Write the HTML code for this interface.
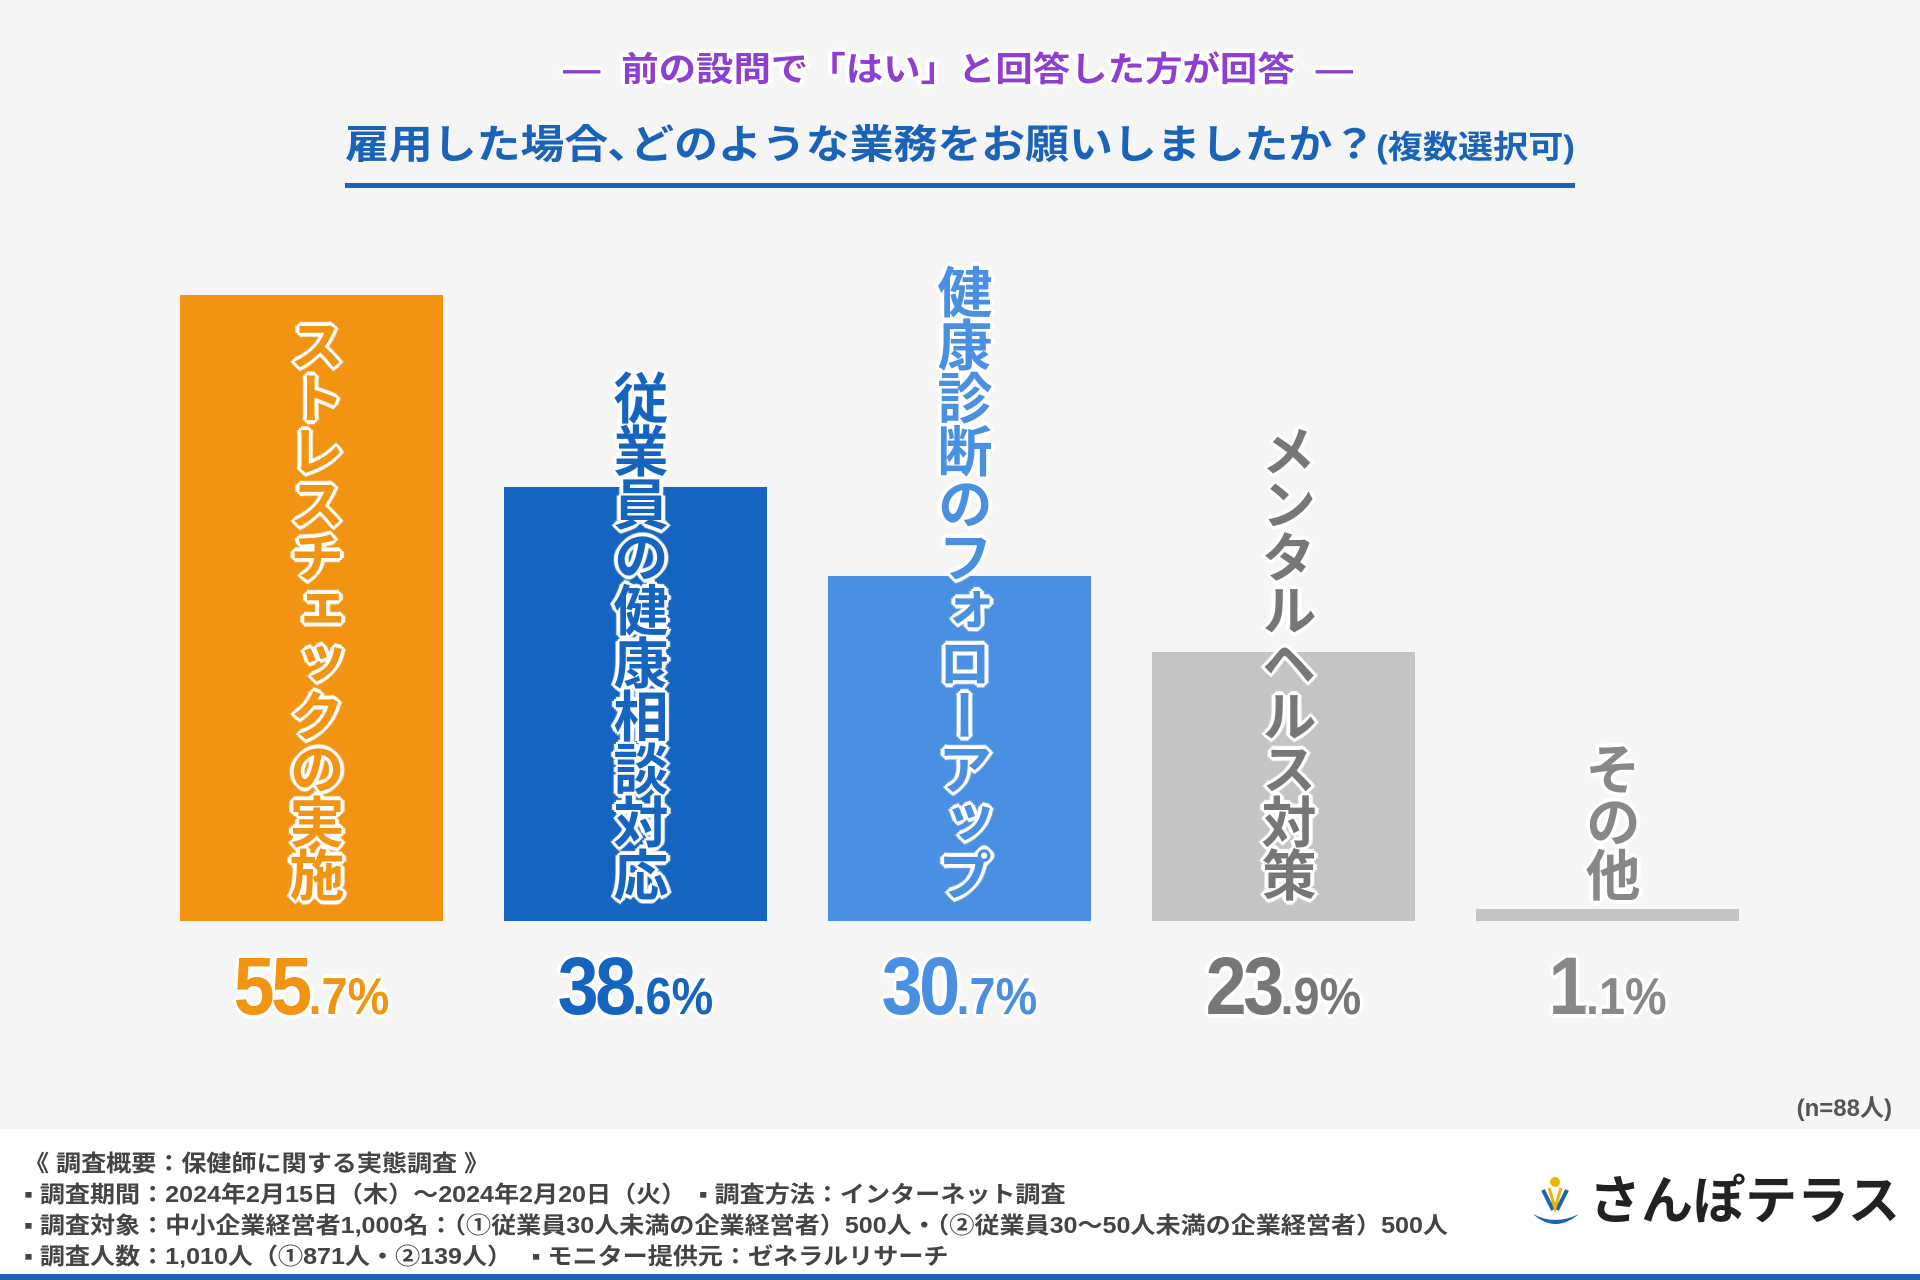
<!DOCTYPE html>
<html><head><meta charset="utf-8">
<style>
html,body{margin:0;padding:0}
body{width:1920px;height:1280px;background:#f5f5f5;position:relative;overflow:hidden;font-family:"Liberation Sans","Noto Sans CJK JP",sans-serif}
.abs{position:absolute}
.fit{white-space:nowrap;transform-origin:0 0;display:inline-block}
.outl{text-shadow:0 0 2px #fff,3px 0 0 #fff,-3px 0 0 #fff,0 3px 0 #fff,0 -3px 0 #fff,2px 2px 0 #fff,-2px 2px 0 #fff,2px -2px 0 #fff,-2px -2px 0 #fff,4px 0 1px #fff,-4px 0 1px #fff,0 4px 1px #fff,0 -4px 1px #fff}
.vlab{position:absolute;writing-mode:vertical-rl;font-weight:bold;font-size:55px;line-height:1;letter-spacing:-2px}
.val{position:absolute;font-weight:bold;white-space:nowrap;transform-origin:50% 100%}
.foot{font-size:23px;color:#444;font-weight:bold;white-space:nowrap;position:absolute;left:24px;transform-origin:0 0}
</style></head>
<body>
<div class="abs fit outl" id="sub" style="left:563px;top:42px;font-size:34px;font-weight:bold;color:#8e3fd0">―&nbsp;&nbsp;前の設問で「はい」と回答した方が回答&nbsp;&nbsp;―</div>
<div class="abs fit" id="title" style="left:345px;top:112px;font-size:40px;font-weight:bold;color:#1a63b8">雇用した場合､どのような業務をお願いしましたか？<span style="font-size:32px">(複数選択可)</span></div>
<div class="abs" style="left:345px;top:183px;width:1230px;height:5px;background:#1a63b8"></div>
<div id="plot"></div>
<div class="abs" style="right:28px;top:1088px;font-size:24px;font-weight:bold;color:#555">(n=88人)</div>
<div class="abs" style="left:0;top:1129px;width:1920px;height:151px;background:#fff"></div>
<div class="abs" style="left:0;top:1274px;width:1920px;height:6px;background:#1a63b8"></div>
<div class="foot" id="f1" style="top:1144px">《 調査概要：保健師に関する実態調査 》</div>
<div class="foot" id="f2" style="top:1175px">▪ 調査期間：2024年2月15日（木）～2024年2月20日（火）　▪ 調査方法：インターネット調査</div>
<div class="foot" id="f3" style="top:1206px">▪ 調査対象：中小企業経営者1,000名：（①従業員30人未満の企業経営者）500人・（②従業員30～50人未満の企業経営者）500人</div>
<div class="foot" id="f4" style="top:1237px">▪ 調査人数：1,010人（①871人・②139人）　 ▪ モニター提供元：ゼネラルリサーチ</div>
<div class="abs" style="left:1525px;top:1172px;width:370px;height:60px">
 <svg width="60" height="60" style="position:absolute;left:0;top:0">
  <path d="M8 42 Q30 62 54 42 Q30 54 8 42Z" fill="#1a63b8"/>
  <circle cx="30" cy="10" r="5" fill="#f0b400"/>
  <path d="M18 18 L28 38 M42 18 L32 38" stroke="#1a63b8" stroke-width="4"/>
  <path d="M24 16 L30 36 L36 16" stroke="#f0b400" stroke-width="3" fill="none"/>
 </svg>
 <div style="position:absolute;left:64px;top:0;font-size:52px;font-weight:bold;color:#222;line-height:60px;white-space:nowrap">さんぽテラス</div>
</div>
<script>
const categories=["ストレスチェックの実施","従業員の健康相談対応","健康診断のフォローアップ","メンタルヘルス対策","その他"];
const values=[55.7,38.6,30.7,23.9,1.1];
const barColors=["#f39312","#1565c0","#4a90e2","#c4c4c4","#c4c4c4"];
const textColors=["#f39312","#1565c0","#4a90e2","#777777","#888888"];
const baseY=921, topY=295, maxV=55.7, x0=180, step=324, bw=263;
function yScale(v){return baseY-(v/maxV)*(baseY-topY);}
function xScale(i){return x0+i*step;}
const plot=document.getElementById('plot');
categories.forEach((c,i)=>{
  const b=document.createElement('div');
  
  
  const y=yScale(values[i]);
  b.style.cssText=`position:absolute;left:${xScale(i)}px;top:${y}px;width:${bw}px;height:${baseY-y}px;background:${barColors[i]}`;
  plot.appendChild(b);
  const l=document.createElement('div');
  
  
  l.className='vlab outl';
  l.textContent=c;
  l.style.color=textColors[i];
  plot.appendChild(l);
  const h=l.getBoundingClientRect();
  l.style.left=(xScale(i)+bw/2-h.width/2)+'px';
  l.style.top=(900-h.height)+'px';
  const v=document.createElement('div');
  
  
  v.className='val outl';
  const parts=values[i].toFixed(1).split('.');
  v.innerHTML=`<span style="font-size:82px;letter-spacing:-4px">${parts[0]}</span><span style="font-size:52px">.${parts[1]}%</span>`;
  v.style.color=textColors[i];
  v.style.top='940px';
  plot.appendChild(v);
  const w=v.getBoundingClientRect().width;
  v.style.left=(xScale(i)+bw/2-w/2)+'px';
  v.style.transform='scaleX(0.9)';
});
function fit(id,target){const e=document.getElementById(id);const w=e.getBoundingClientRect().width;e.style.transform=`scaleX(${target/w})`;return target/w;}
fit('title',1230);
fit('sub',790);
const fs=fit('f3',1424);
['f1','f2','f4'].forEach(id=>{document.getElementById(id).style.transform=`scaleX(${fs})`;});
</script>
</body></html>
